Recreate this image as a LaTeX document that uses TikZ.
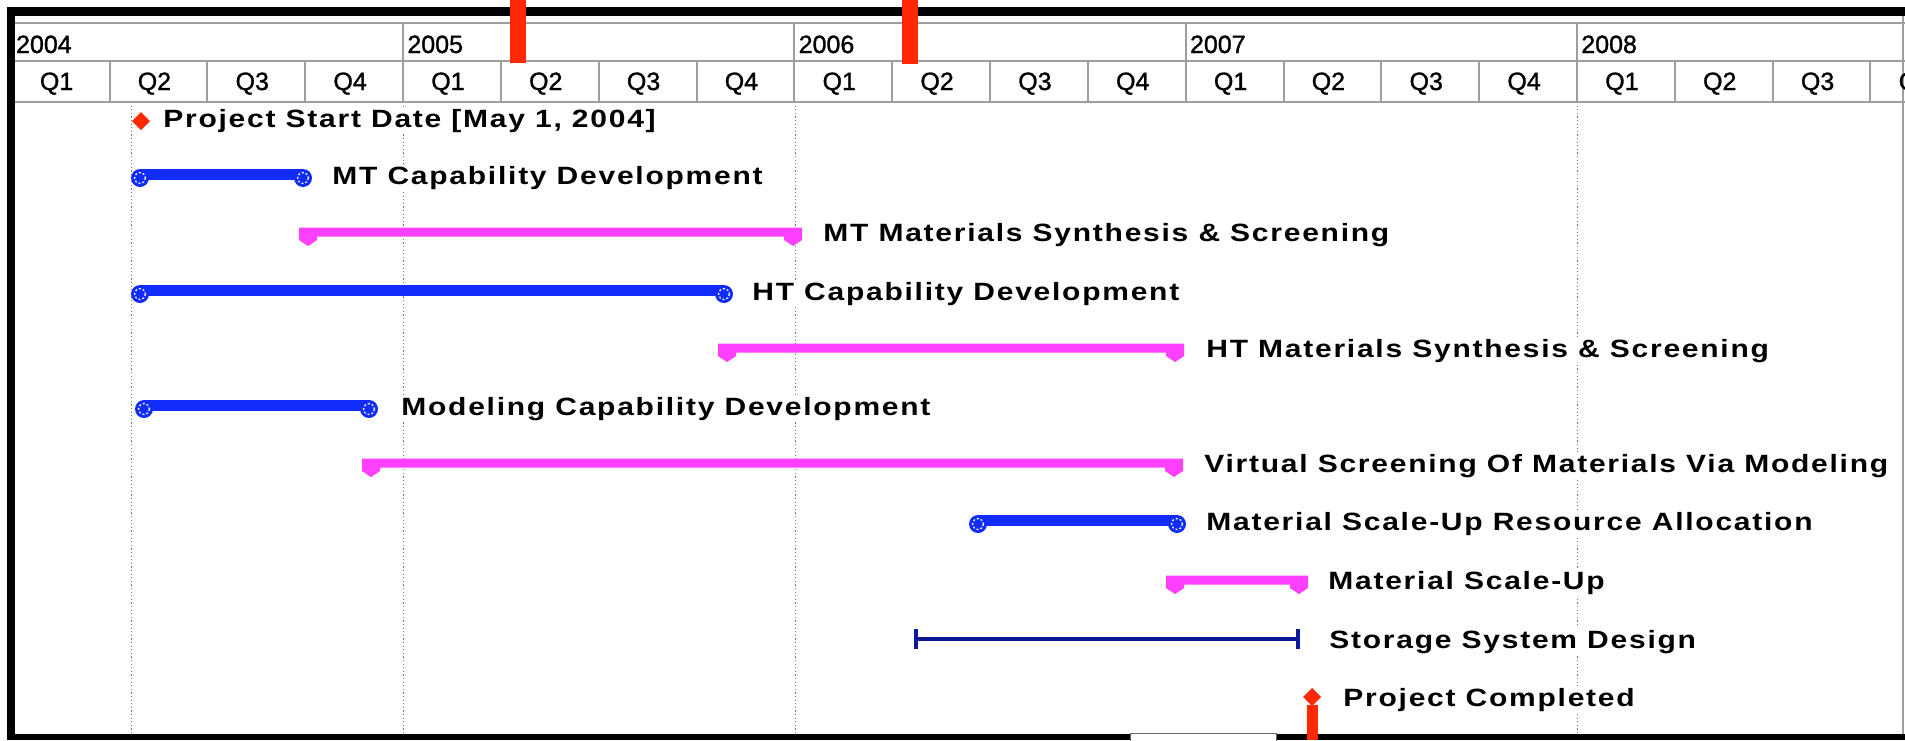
\documentclass[tikz,border=0pt]{standalone}
\usepackage{fontspec}
\setmainfont{Liberation Sans}
\newfontfamily\gbLabelFont[LetterSpace=7,FakeStretch=1.2]{Liberation Sans}
\newfontfamily\gbHeadFont[FakeBold=1.2]{Liberation Sans}
\definecolor{gbblue}{RGB}{18,45,250}
\definecolor{gbpink}{RGB}{255,64,255}
\definecolor{gbred}{RGB}{255,40,0}
\definecolor{gbnavy}{RGB}{12,22,150}
\newcommand{\gbKnob}[2]{%
  \fill[gbblue] (#1,#2+3) circle[radius=9];
  \draw[white,line width=0.6pt,dash pattern=on 1pt off 1pt] (#1,#2+3) circle[radius=5.5];}
\newcommand{\gbBlueBar}[3]{%
  \fill[gbblue] (#1,#3-6) rectangle (#2,#3+5);
  \gbKnob{#1}{#3}\gbKnob{#2}{#3}}
\newcommand{\gbPinkBar}[3]{%
  \fill[gbpink] (#1,#3-4.5) -- (#2,#3-4.5) -- (#2,#3+8) -- (#2-9,#3+14) -- (#2-18,#3+8)
   -- (#2-18,#3+4.5) -- (#1+18,#3+4.5) -- (#1+18,#3+8) -- (#1+9,#3+14) -- (#1,#3+8) -- cycle;}
\newcommand{\gbDiamond}[2]{%
  \fill[gbred] (#1-9,#2) -- (#1,#2-9) -- (#1+9,#2) -- (#1,#2+9) -- cycle;}
\tikzset{
  gbgrid/.style={draw=black!38,line width=1pt},
  gbdot/.style={draw=black!55,line width=0.5pt,dash pattern=on 0.6pt off 1.2pt},
  hdr/.style={inner sep=0pt,font=\gbHeadFont\fontsize{12.5}{15}\selectfont},
  lbl/.style={anchor=base west,fill=white,inner sep=1pt,
    font=\gbLabelFont\bfseries\fontsize{12.5}{15}\selectfont},
}
\begin{document}
\begin{tikzpicture}[x=0.5pt,y=-0.5pt]
\useasboundingbox (0,0) rectangle (1905,740);
\fill[white] (0,0) rectangle (1905,740);
% dotted guide lines
\foreach \xx in {131,403,795,1577} \draw[gbdot] (\xx,102) -- (\xx,734);
% header grid
\draw[gbgrid] (15,23) -- (1905,23);
\draw[gbgrid] (15,61) -- (1905,61);
\draw[gbgrid] (15,102) -- (1905,102);
\foreach \k in {1,2,3,4} {\pgfmathsetmacro\yx{11.7+391.3*\k}
  \draw[gbgrid] (\yx,23) -- (\yx,61);}
\foreach \i in {1,...,19} {\pgfmathsetmacro\qx{11.7+97.83*\i}
  \draw[gbgrid] (\qx,61) -- (\qx,102);}
\draw[gbgrid] (1903,16) -- (1903,734);
% header labels
\foreach \yr [count=\k from 0] in {2004,2005,2006,2007,2008}
  \node[hdr,anchor=base west] (y\yr) at (15.7+391.3*\k,53) {\yr};
\foreach \i in {0,...,19} {\pgfmathsetmacro\qc{11.7+97.83*\i+44.9}
  \pgfmathtruncatemacro\qn{mod(\i,4)+1}
  \node[hdr,anchor=base] (q\i) at (\qc,90) {Q\qn};}
% tasks
\gbDiamond{141}{121}
\node[lbl] (t0) at (161,127) {Project Start Date [May 1, 2004]};
\gbBlueBar{140}{303}{175}
\node[lbl] (t1) at (330,184) {MT Capability Development};
\gbPinkBar{299}{802}{232}
\node[lbl] (t2) at (821,241) {MT Materials Synthesis \& Screening};
\gbBlueBar{140}{724}{291}
\node[lbl] (t3) at (750,300) {HT Capability Development};
\gbPinkBar{718}{1184}{348}
\node[lbl] (t4) at (1204,357) {HT Materials Synthesis \& Screening};
\gbBlueBar{144}{369}{406}
\node[lbl] (t5) at (399,415) {Modeling Capability Development};
\gbPinkBar{362}{1183}{463}
\node[lbl] (t6) at (1202,472) {Virtual Screening Of Materials Via Modeling};
\gbBlueBar{978}{1177}{521}
\node[lbl] (t7) at (1204,530) {Material Scale-Up Resource Allocation};
\gbPinkBar{1166}{1308}{580}
\node[lbl] (t8) at (1326,589) {Material Scale-Up};
\draw[gbnavy,line width=2pt] (916,639) -- (1298,639);
\draw[gbnavy,line width=2pt] (916,629) -- (916,649);
\draw[gbnavy,line width=2pt] (1298,629) -- (1298,649);
\node[lbl] (t9) at (1327,648) {Storage System Design};
\gbDiamond{1312}{697}
\node[lbl] (t10) at (1341,706) {Project Completed};
% frame
\fill[black] (7,7) rectangle (1905,16);
\fill[black] (7,7) rectangle (15,740);
\fill[black] (7,734) rectangle (1905,740);
\filldraw[fill=white,draw=black!60,line width=0.5pt] (1130,733) rectangle (1276,741);
% red markers
\fill[gbred] (510,0) rectangle (526,63);
\fill[gbred] (902,0) rectangle (918,64);
\fill[gbred] (1307,705) rectangle (1318,740);
\end{tikzpicture}
\end{document}
